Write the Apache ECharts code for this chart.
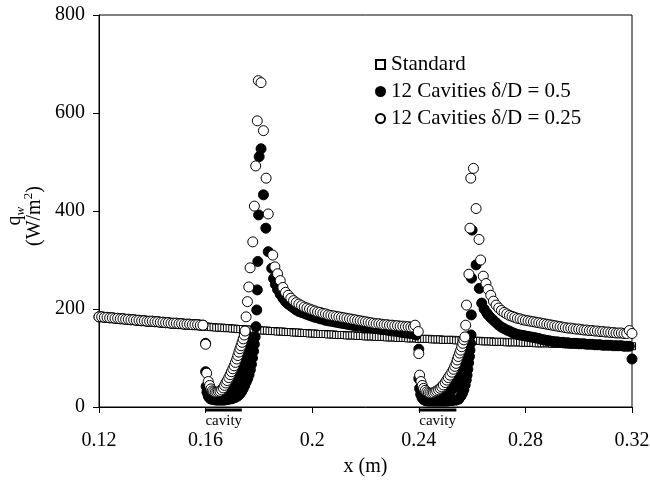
<!DOCTYPE html>
<html><head><meta charset="utf-8">
<script src="https://cdn.jsdelivr.net/npm/echarts@6/dist/echarts.min.js"></script>
<style>html,body{margin:0;padding:0;background:#fff}#c{width:650px;height:480px}</style>
</head><body><div id="c"></div>
<script>
// ---- data (x in m, q_w in W/m^2) ----
const X_STEP = 0.001;
const xTicks = [0.12, 0.16, 0.2, 0.24, 0.28, 0.32];
const yTicks = [0, 200, 400, 600, 800];

// Standard: 0.120 .. 0.320, step 0.001
const standardVals = [
 184,183,183,182,182,181,180,180,179,179,
 178,178,177,177,176,176,175,175,174,174,
 173,173,172,172,171,171,170,170,169,169,
 168,168,167,167,167,166,166,165,165,164,
 164,164,163,163,162,162,162,161,161,161,
 160,160,159,159,159,158,158,158,157,157,
 157,156,156,156,155,155,155,154,154,154,
 153,153,153,152,152,152,151,151,151,150,
 150,150,149,149,149,149,148,148,148,147,
 147,147,147,146,146,146,146,145,145,145,
 144,144,144,144,143,143,143,143,142,142,
 142,142,141,141,141,141,140,140,140,140,
 139,139,139,139,139,138,138,138,138,137,
 137,137,137,137,136,136,136,136,136,135,
 135,135,135,135,134,134,134,134,133,133,
 133,133,133,132,132,132,132,132,132,131,
 131,131,131,131,130,130,130,130,130,130,
 129,129,129,129,129,128,128,128,128,128,
 128,127,127,127,127,127,127,126,126,126,
 126,126,126,125,125,125,125,125,125,124,
 124
];

// Upstream of the first cavity (0.120 .. 0.159), both cavity cases
const upstreamVals = [
 184,184,183,183,182,182,181,181,180,180,
 179,179,178,178,177,177,176,176,175,175,
 175,174,174,173,173,172,172,171,171,171,
 170,170,169,169,169,168,168,168,167,167
];

// 12 Cavities delta/D = 0.25
const c25Cavity1 = [
 [0.1600,128],[0.1604,69],[0.1610,52],[0.1615,44],[0.1620,37],[0.1625,33],[0.1630,31],[0.1636,30],
 [0.1642,30],[0.1648,31],[0.1654,32],[0.1660,35],[0.1666,39],[0.1671,44],[0.1676,49],[0.1681,54],
 [0.1687,60],[0.1692,66],[0.1697,72],[0.1702,78],[0.1707,84],[0.1712,91],[0.1717,98],[0.1721,105],
 [0.1725,112],[0.1729,119],[0.1733,125],[0.1737,132],[0.1741,139],[0.1745,147],[0.1748,155],
 [0.1752,184],[0.1757,215],[0.1762,245],[0.1767,284],[0.1777,337],[0.1783,410],[0.1788,492],
 [0.1794,584],[0.1798,666],[0.1808,662],[0.1817,564],[0.1827,467],[0.1835,394],[0.1852,310],
 [0.1860,286],[0.1870,272],[0.1880,258],[0.1890,244]
];
const c25Decay1 = [ // 0.190 .. 0.238
 234,228,222,217,213,210,207,204,202,200,
 198,196,194,193,191,190,188,187,186,185,
 184,183,182,181,180,179,178,177,176,175,
 174,173,172,171,170,170,169,168,168,167,
 167,166,166,165,165,164,164,163,163
];
const c25Cavity2 = [
 [0.2386,167],[0.2398,154],[0.2400,109],[0.2403,65],[0.2408,52],[0.2413,44],[0.2418,38],[0.2424,34],
 [0.2430,31],[0.2436,29],[0.2442,28],[0.2449,28],[0.2455,29],[0.2461,31],[0.2467,33],[0.2474,35],
 [0.2480,38],[0.2486,41],[0.2492,45],[0.2499,50],[0.2505,55],[0.2511,60],[0.2517,65],[0.2524,71],
 [0.2530,77],[0.2535,83],[0.2540,89],[0.2544,96],[0.2548,103],[0.2553,110],[0.2557,116],[0.2561,123],
 [0.2565,130],[0.2569,137],[0.2573,143],[0.2576,167],[0.2579,208],[0.2588,271],[0.2592,365],
 [0.2595,467],[0.2605,487],[0.2615,405],[0.2626,342],[0.2632,300],[0.2642,267],[0.2652,252],[0.2660,240]
];
const c25Decay2 = [ // 0.267 .. 0.320
 228,216,208,202,197,193,190,187,185,183,
 181,180,178,177,176,175,174,173,172,171,
 170,169,168,167,166,165,164,163,162,161,
 161,160,159,159,158,157,157,156,156,155,
 155,154,154,153,153,152,152,151,151,151,
 150,150,156,150
];

// 12 Cavities delta/D = 0.5
const c50Cavity1 = [
 [0.1600,130],[0.1600,72],[0.1602,42],[0.1605,30],[0.1610,22],[0.1615,18],[0.1620,16],[0.1630,15],
 [0.1640,14],[0.1650,14],[0.1660,14],[0.1670,14],[0.1680,15],[0.1690,16],[0.1700,17],[0.1710,19],
 [0.1720,22],[0.1728,26],[0.1735,31],[0.1741,37],[0.1747,44],[0.1753,52],[0.1758,58],[0.1763,66],
 [0.1768,76],[0.1772,87],[0.1776,100],[0.1780,114],[0.1783,128],[0.1786,143],[0.1789,164],
 [0.1792,198],[0.1794,239],[0.1796,297],[0.1799,392],[0.1801,511],[0.1808,527],[0.1817,433],
 [0.1826,365],[0.1835,317],[0.1848,283],[0.1855,262],[0.1862,250],[0.1870,240],[0.1880,230],[0.1890,222]
];
// inner rows of the dark crescent inside cavity 1
const c50Cavity1Inner = [
 [0.1686,30],[0.1705,40],[0.1720,55],[0.1728,65],[0.1739,84],[0.1746,98],[0.1752,112],[0.1758,128],[0.1765,143],
 [0.1660,22],[0.1675,24],[0.1695,30],[0.1712,40],[0.1724,50],[0.1733,62],[0.1742,75],[0.1750,90],[0.1756,105],[0.1762,120]
];
const c50Decay1 = [ // 0.190 .. 0.239
 215,210,206,202,198,195,193,191,189,187,
 185,183,182,180,179,177,176,175,174,173,
 172,171,170,169,168,167,166,165,165,164,
 163,162,161,161,160,159,158,158,157,156,
 155,155,154,153,152,151,151,150,149,147
];
const c50Cavity2 = [
 [0.2400,118],[0.2400,58],[0.2403,38],[0.2407,26],[0.2412,19],[0.2418,15],[0.2425,13],[0.2435,12],
 [0.2445,12],[0.2455,12],[0.2465,12],[0.2475,12],[0.2485,12],[0.2495,12],[0.2505,12],[0.2515,13],
 [0.2525,13],[0.2540,14],[0.2550,16],[0.2558,22],[0.2564,28],[0.2569,35],[0.2574,45],[0.2578,55],
 [0.2581,65],[0.2584,77],[0.2587,90],[0.2590,103],[0.2592,116],[0.2594,130],[0.2596,147],
 [0.2597,188],[0.2598,263],[0.2600,361],[0.2615,290],[0.2627,242],[0.2636,212],[0.2645,200],[0.2655,192]
];
// inner rows of the dark crescent inside cavity 2
const c50Cavity2Inner = [
 [0.2503,28],[0.2533,45],[0.2542,55],[0.2549,65],[0.2557,77],[0.2563,90],[0.2569,103],[0.2575,116],[0.2580,130],[0.2585,143],
 [0.2480,20],[0.2500,22],[0.2518,30],[0.2530,38],[0.2540,46],[0.2548,56]
];
const c50Decay2 = [ // 0.266 .. 0.319
 188,182,177,172,167,163,160,157,155,152,
 150,148,147,146,145,144,143,142,141,140,
 138,137,136,135,134,133,133,132,132,131,
 131,130,130,130,129,129,129,128,128,128,
 127,127,127,126,126,126,126,125,125,125,
 125,124,124,124
];
const c50End = [[0.320, 98]];

// cavity extents along x (m)
const cavities = [[0.160, 0.1736], [0.240, 0.2541]];

const names = ['Standard', '12 Cavities \u03b4/D = 0.5', '12 Cavities \u03b4/D = 0.25'];

function onGrid(x0, vals) {
  return vals.map((v, i) => [+(x0 + i * X_STEP).toFixed(4), v]);
}

const standardData = onGrid(0.120, standardVals);
const c50Data = [].concat(onGrid(0.120, upstreamVals), c50Cavity1, c50Cavity1Inner, onGrid(0.190, c50Decay1),
  c50Cavity2, c50Cavity2Inner, onGrid(0.266, c50Decay2), c50End);
const c25Data = [].concat(onGrid(0.120, upstreamVals), c25Cavity1, onGrid(0.190, c25Decay1),
  c25Cavity2, onGrid(0.267, c25Decay2));

const FONT = 'Liberation Serif';
const chart = echarts.init(document.getElementById('c'), null, {renderer: 'canvas'});

chart.setOption({
  animation: false,
  backgroundColor: '#fff',
  grid: {left: 99, right: 18, top: 15, bottom: 73, show: true, borderColor: '#000', borderWidth: 1,
         containLabel: false, outerBoundsMode: 'none'},
  xAxis: {
    type: 'value', min: xTicks[0], max: xTicks[xTicks.length - 1], interval: 0.04,
    name: 'x (m)', nameLocation: 'middle', nameGap: 50,
    nameTextStyle: {fontFamily: FONT, fontSize: 20, color: '#000'},
    axisLine: {show: true, lineStyle: {color: '#000', width: 1}},
    axisTick: {show: true, inside: false, length: 6, lineStyle: {color: '#000'}},
    splitLine: {show: false},
    axisLabel: {margin: 24, fontFamily: FONT, fontSize: 20, color: '#000',
      formatter: v => String(Math.round(v * 100) / 100)}
  },
  yAxis: {
    type: 'value', min: yTicks[0], max: yTicks[yTicks.length - 1], interval: 200,
    axisLine: {show: true, lineStyle: {color: '#000', width: 1}},
    axisTick: {show: true, inside: false, length: 6, lineStyle: {color: '#000'}},
    splitLine: {show: false},
    axisLabel: {margin: 14, fontFamily: FONT, fontSize: 20, color: '#000'}
  },
  legend: {
    orient: 'vertical', left: 370, top: 49, itemWidth: 11, itemHeight: 9, itemGap: 6,
    textStyle: {fontFamily: FONT, fontSize: 21, color: '#000'},
    data: [
      {name: names[0], icon: 'path://M0,0H10V10H0Z'},
      {name: names[1], icon: 'circle'},
      {name: names[2], icon: 'circle'}
    ]
  },
  graphic: [{
    type: 'group', x: 26, y: 216, rotation: Math.PI / 2, silent: true,
    children: [
      {type: 'text', x: -9.5, y: -11.5, style: {text: 'q', font: '20px "Liberation Serif"', fill: '#000', textAlign: 'left', textVerticalAlign: 'middle'}},
      {type: 'text', x: 0.5, y: -5.5, style: {text: 'w', font: 'italic 13px "Liberation Serif"', fill: '#000', textAlign: 'left', textVerticalAlign: 'middle'}},
      {type: 'text', x: -30, y: 9, style: {text: '(W/m', font: '20px "Liberation Serif"', fill: '#000', textAlign: 'left', textVerticalAlign: 'middle'}},
      {type: 'text', x: 16.7, y: 3, style: {text: '2', font: '13px "Liberation Serif"', fill: '#000', textAlign: 'left', textVerticalAlign: 'middle'}},
      {type: 'text', x: 23.3, y: 9, style: {text: ')', font: '20px "Liberation Serif"', fill: '#000', textAlign: 'left', textVerticalAlign: 'middle'}}
    ]
  }],
  series: [
    {
      name: names[0], type: 'scatter', data: standardData, symbol: 'rect', symbolSize: 7,
      itemStyle: {color: '#fff', borderColor: '#000', borderWidth: 1, opacity: 1}, silent: true
    },
    {
      name: names[1], type: 'scatter', data: c50Data, symbol: 'circle', symbolSize: 10,
      itemStyle: {color: '#000', borderColor: '#000', borderWidth: 1, opacity: 1}, silent: true
    },
    {
      name: names[2], type: 'scatter', data: c25Data, symbol: 'circle', symbolSize: 10,
      itemStyle: {color: '#fff', borderColor: '#000', borderWidth: 1, opacity: 1}, silent: true
    },
    {
      type: 'custom', data: cavities, encode: {x: [0, 1]}, clip: false, silent: true, z: 5,
      renderItem: function (params, api) {
        const p0 = api.coord([api.value(0), 0]);
        const p1 = api.coord([api.value(1), 0]);
        return {
          type: 'group',
          children: [
            {type: 'rect', shape: {x: p0[0], y: p0[1] + 1.5, width: p1[0] - p0[0], height: 3}, style: {fill: '#000'}},
            {type: 'text', x: (p0[0] + p1[0]) / 2, y: p0[1] + 7,
              style: {text: 'cavity', font: '15px "Liberation Serif"', fill: '#000', textAlign: 'center', textVerticalAlign: 'top'}}
          ]
        };
      }
    }
  ]
});
</script>
</body></html>
